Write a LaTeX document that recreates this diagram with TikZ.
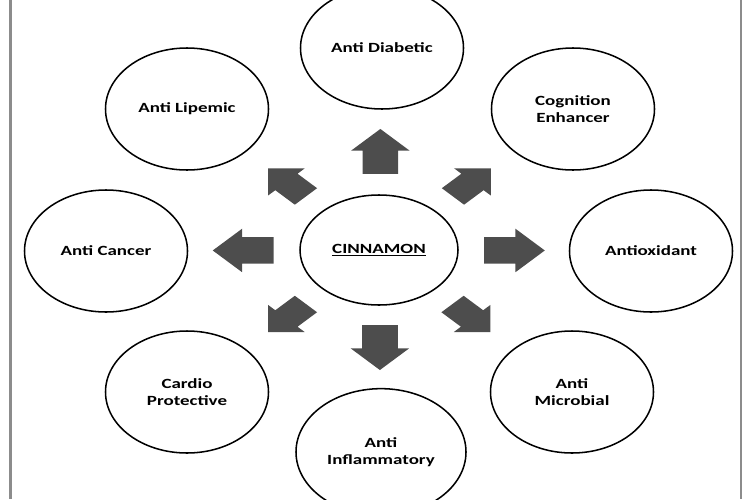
\documentclass[tikz,border=0pt]{standalone}
\usepackage{fontspec}
\setmainfont{Carlito}[FakeStretch=1.35]
\usepackage{tikz}
\usetikzlibrary{shapes.geometric,shapes.arrows,calc}
\definecolor{arrowgray}{HTML}{4D4D4D}
\definecolor{framegray}{HTML}{8C8C8C}

\begin{document}
\begin{tikzpicture}[x=0.03cm, y=-0.03cm,
    effect/.style={draw, ellipse, line width=1.3pt, minimum width=4.89cm, minimum height=3.66cm, align=center, font=\fontsize{12}{14}\selectfont\bfseries},
    blockarr/.style={shape=single arrow, fill=arrowgray, inner xsep=0pt, inner ysep=0.39cm, minimum height=1.35cm, single arrow head extend=0.255cm}
]
\useasboundingbox (0,0) rectangle (750,499);
\draw[framegray, line width=2pt] (10.5,0) -- (10.5,499) (741,0) -- (741,499);

\node[effect, minimum width=4.74cm, minimum height=3.3cm] (cin) at (379, 250) {\underline{CINNAMON}};
\node[effect] (diab) at (382, 48) {Anti Diabetic};
\node[effect] (lip) at (187, 109) {Anti Lipemic};
\node[effect] (cog) at (573, 109) {Cognition\\Enhancer};
\node[effect] (canc) at (106, 251) {Anti Cancer};
\node[effect] (antiox) at (651, 251) {Antioxidant};
\node[effect] (card) at (187, 392) {Cardio\\Protective};
\node[effect] (micr) at (572, 392) {Anti\\Microbial};
\node[effect, minimum width=5.1cm, minimum height=3.8cm] (infl) at (381, 452) {Anti\\Inflammatory};

% block arrows out of the centre
\node[blockarr, xscale=1.35, rotate=90] (aup) at ($(cin)!0.455!(diab)$) {};
\node[blockarr, xscale=1.35, rotate=-90] (adown) at ($(cin)!0.45!(infl)$) {};
\node[blockarr, xscale=1.35, rotate=180] (aleft) at ($(cin)!0.465!(canc)$) {};
\node[blockarr, xscale=1.35, rotate=0] (aright) at ($(cin)!0.465!(antiox)$) {};
\node[blockarr, xscale=1.35, rotate=135, scale=0.88] (aul) at ($(cin)!0.45!(lip)$) {};
\node[blockarr, xscale=1.35, rotate=45, scale=0.88] (aur) at ($(cin)!0.45!(cog)$) {};
\node[blockarr, xscale=1.35, rotate=225, scale=0.88] (all) at ($(cin)!0.45!(card)$) {};
\node[blockarr, xscale=1.35, rotate=-45, scale=0.88] (alr) at ($(cin)!0.45!(micr)$) {};
\end{tikzpicture}
\end{document}
